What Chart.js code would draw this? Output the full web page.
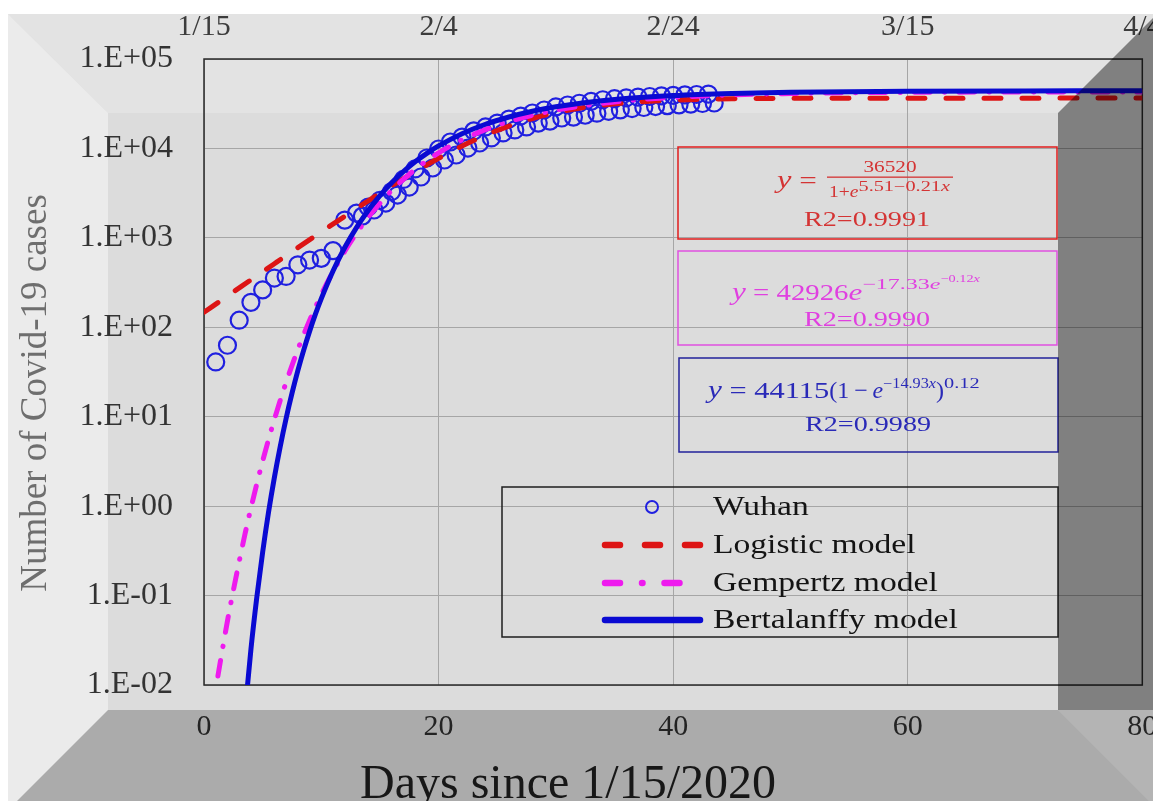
<!DOCTYPE html>
<html>
<head>
<meta charset="utf-8">
<script src="https://cdn.jsdelivr.net/npm/chart.js@4.4.1/dist/chart.umd.min.js"></script>
<style>
  html, body { margin: 0; padding: 0; background: #fff; }
</style>
</head>
<body>
<canvas id="chart" width="1153" height="801"></canvas>
<script>
// observed cases (two rows of markers in the original)
const wuhanDays = [1, 2, 3, 4, 5, 6, 7, 8, 9, 10, 11, 12, 13, 13.5, 14, 14.5, 15, 15.5, 16, 16.5,
  17, 17.5, 18, 18.5, 19, 19.5, 20, 20.5, 21, 21.5, 22, 22.5, 23, 23.5, 24, 24.5, 25, 25.5,
  26, 26.5, 27, 27.5, 28, 28.5, 29, 29.5, 30, 30.5, 31, 31.5, 32, 32.5, 33, 33.5, 34, 34.5,
  35, 35.5, 36, 36.5, 37, 37.5, 38, 38.5, 39, 39.5, 40, 40.5, 41, 41.5, 42, 42.5, 43, 43.5];
const wuhanCases = [41, 63, 120, 190, 262, 355, 370, 500, 565, 590, 720, 1580, 1890, 1750, 2210, 2050, 2630, 2450, 3300, 3010,
  4500, 3700, 5900, 4790, 7820, 6040, 9850, 7420, 11800, 8440, 13400, 10100, 15700, 11500, 17400, 13100, 19200, 14900,
  21300, 16100, 23000, 17400, 24900, 19200, 26900, 20200, 29100, 21900, 30600, 22400, 32000, 23500, 33500, 24800, 35000, 26000,
  36000, 27000, 36800, 27900, 37500, 28700, 38100, 29400, 38700, 30100, 39200, 30700, 39700, 31300, 40100, 31800, 40500, 32200];

// fitted curves
const logisticDays = [0, 2, 4, 6, 8, 10, 12, 14, 16, 18, 20, 22, 24, 26, 28, 30, 32, 34, 36, 38, 40, 45, 50, 60, 70, 80];
const logisticCases = [147, 224, 339, 514, 777, 1166, 1743, 2596, 3812, 5500, 7755, 10631, 14046, 17805, 21600, 25117,
  28135, 30535, 32348, 33671, 34597, 35825, 36273, 36490, 36516, 36520];

const gompertzDays = [0, 1, 1.5, 2, 2.5, 3, 3.5, 4, 5, 6, 7, 8, 9, 10, 11, 12, 13, 14, 16, 18, 20, 22, 24, 26, 28, 30, 35, 40, 45, 50, 60, 70, 80];
const gompertzCases = [0.0013, 0.009, 0.022, 0.052, 0.114, 0.24, 0.49, 0.95, 3.19, 9.33, 24.2, 56.4, 119, 232, 419, 707, 1126, 1699,
  3383, 5821, 8916, 12462, 16226, 19975, 23511, 26743, 33100, 37220, 39690, 41120, 42370, 42759, 42876];

const bertDays = [3, 3.5, 4, 4.5, 5, 5.5, 6, 6.5, 7, 7.5, 8, 8.5, 9, 9.5, 10, 11, 12, 13, 14, 15, 16, 17, 18, 19, 20,
  22, 24, 26, 28, 30, 35, 40, 45, 50, 60, 70, 80];
const bertCases = [0.0008, 0.0051, 0.025, 0.095, 0.305, 0.85, 2.09, 4.65, 9.56, 18.2, 32.7, 55.5, 90, 140, 209, 426, 780, 1304,
  2028, 2970, 4138, 5512, 7085, 8810, 10663, 14598, 18634, 22464, 26046, 29183, 35204, 39000, 41230, 42510, 43624, 43967, 44070];

const yTickValues = [0.01, 0.1, 1, 10, 100, 1000, 10000, 100000];
const yTickLabels = ['1.E-02', '1.E-01', '1.E+00', '1.E+01', '1.E+02', '1.E+03', '1.E+04', '1.E+05'];
const topTickLabels = ['1/15', '2/4', '2/24', '3/15', '4/4'];

const FONT = '"Liberation Serif", "Times New Roman", serif';

function pts(xs, ys) {
  return xs.map((x, i) => ({ x: x, y: ys[i] }));
}

function poly(c, p, fill) {
  c.beginPath();
  c.moveTo(p[0][0], p[0][1]);
  for (let i = 1; i < p.length; i++) c.lineTo(p[i][0], p[i][1]);
  c.closePath();
  c.fillStyle = fill;
  c.fill();
}

// text squeezed/stretched horizontally like the original picture
function wideText(c, t, x, y, sx) {
  c.save();
  c.translate(x, y);
  c.scale(sx, 1);
  c.fillText(t, 0, 0);
  c.restore();
}

// a row of pieces: [text, size, dy, italic, sx]
function runs(c, items, x, baseline) {
  let cx = x;
  c.textAlign = 'left';
  c.textBaseline = 'alphabetic';
  items.forEach(([t, size, dy, it, sx]) => {
    c.font = (it ? 'italic ' : '') + size + 'px ' + FONT;
    wideText(c, t, cx, baseline + dy, sx);
    cx += c.measureText(t).width * sx;
  });
}

function centered(c, t, size, x, baseline, sx) {
  c.font = size + 'px ' + FONT;
  c.textAlign = 'center';
  c.textBaseline = 'alphabetic';
  wideText(c, t, x, baseline, sx);
}

const framePlugin = {
  id: 'frame',
  beforeDraw(chart) {
    const c = chart.ctx;
    c.save();
    c.fillStyle = '#fff';
    c.fillRect(0, 0, 1153, 801);
    c.fillStyle = '#dcdcdc';
    c.fillRect(8, 14, 1145, 787);
    poly(c, [[8, 14], [1157, 14], [1058, 113], [108, 113]], '#e3e3e3');
    poly(c, [[8, 14], [108, 113], [108, 710], [17, 801], [8, 801]], '#ebebeb');
    c.restore();
  },
  beforeDatasetsDraw(chart) {
    const a = chart.chartArea, c = chart.ctx;
    c.save();
    c.strokeStyle = '#2a2a2a';
    c.lineWidth = 1.5;
    c.strokeRect(a.left, a.top, a.right - a.left, a.bottom - a.top);
    c.restore();
  },
  afterDraw(chart) {
    const c = chart.ctx;
    c.save();

    // axis titles
    c.fillStyle = '#6e6e6e';
    c.font = '37px ' + FONT;
    c.textAlign = 'center';
    c.textBaseline = 'middle';
    c.translate(36, 393);
    c.rotate(-Math.PI / 2);
    c.fillText('Number of Covid-19 cases', 0, 0);
    c.setTransform(1, 0, 0, 1, 0, 0);
    c.fillStyle = '#1e1e1e';
    c.font = '48px ' + FONT;
    c.fillText('Days since 1/15/2020', 568, 785);

    // equation boxes
    c.lineWidth = 1.5;
    c.strokeStyle = '#e01c1c';
    c.strokeRect(678, 147, 379, 92);
    c.fillStyle = '#d43434';
    runs(c, [['y', 26, 0, true, 1.25], [' =', 24, 0, false, 1.3]], 777, 188);
    centered(c, '36520', 17, 890, 172, 1.25);
    c.fillRect(827, 176.5, 126, 1.3);
    runs(c, [['1+', 17, 0, false, 1.15], ['e', 17, 0, true, 1.15], ['5.51−0.21', 14, -6, false, 1.45], ['x', 14, -6, true, 1.45]], 829, 197);
    centered(c, 'R2=0.9991', 22, 867, 226, 1.28);

    c.strokeStyle = '#e050e0';
    c.strokeRect(678, 251, 379, 94);
    c.fillStyle = '#e040e0';
    runs(c, [['y', 26, 0, true, 1.2], [' = 42926', 24, 0, false, 1.2], ['e', 24, 0, true, 1.3], ['−17.33', 15, -11, false, 1.6],
      ['e', 15, -11, true, 1.6], ['−0.12', 11, -18, false, 1.3], ['x', 11, -18, true, 1.3]], 732, 300);
    centered(c, 'R2=0.9990', 22, 867, 326, 1.28);

    c.strokeStyle = '#22229a';
    c.strokeRect(679, 358, 379, 94);
    c.fillStyle = '#2a2ab8';
    runs(c, [['y', 26, 0, true, 1.2], [' = 44115', 24, 0, false, 1.27], ['(1\u2009−\u2009', 24, 0, false, 1.0], ['e', 24, 0, true, 1.0],
      ['−14.93', 14, -10, false, 1.16], ['x', 14, -10, true, 1.16], [')', 24, 0, false, 1.0], ['0.12', 14, -10, false, 1.45]], 708, 398);
    centered(c, 'R2=0.9989', 22, 868, 431, 1.28);

    // legend
    const ds = chart.data.datasets;
    c.strokeStyle = '#1e1e1e';
    c.lineWidth = 1.5;
    c.strokeRect(502, 487, 556, 150);
    const rowsY = [507, 545, 583, 620];
    ds.forEach((d, i) => {
      const y = rowsY[i];
      c.save();
      if (i === 0) {
        c.beginPath();
        c.arc(652, y, 6, 0, Math.PI * 2);
        c.strokeStyle = d.pointBorderColor;
        c.lineWidth = 2;
        c.stroke();
      } else {
        c.beginPath();
        c.moveTo(605, y);
        c.lineTo(700, y);
        c.strokeStyle = d.borderColor;
        c.lineWidth = d.borderWidth + 1.5;
        c.lineCap = 'round';
        c.setLineDash(d.legendDash || []);
        c.stroke();
      }
      c.restore();
      c.fillStyle = '#141414';
      c.font = '28px ' + FONT;
      c.textAlign = 'left';
      c.textBaseline = 'middle';
      wideText(c, d.label, 713, y + 1, 1.2);
    });

    // bevel shading of the picture frame
    poly(c, [[108, 710], [1058, 710], [1149, 801], [17, 801]], 'rgba(0,0,0,0.22)');
    poly(c, [[1058, 113], [1153, 18], [1153, 710], [1058, 710]], 'rgba(0,0,0,0.42)');
    poly(c, [[1058, 710], [1153, 710], [1153, 805]], 'rgba(0,0,0,0.18)');
    c.restore();
  }
};

const tickFont = { family: FONT, size: 30 };

new Chart(document.getElementById('chart'), {
  type: 'scatter',
  data: {
    datasets: [
      {
        label: 'Wuhan',
        data: pts(wuhanDays, wuhanCases),
        showLine: false,
        pointRadius: 8.5,
        pointBorderWidth: 2.2,
        pointBorderColor: '#2020e0',
        pointBackgroundColor: 'rgba(0,0,0,0)',
        order: 4
      },
      {
        label: 'Logistic model',
        data: pts(logisticDays, logisticCases),
        showLine: true,
        pointRadius: 0,
        borderColor: '#dd1414',
        borderWidth: 5,
        borderDash: [17, 21],
        legendDash: [15, 25],
        borderCapStyle: 'round',
        cubicInterpolationMode: 'monotone',
        order: 3
      },
      {
        label: 'Gempertz model',
        data: pts(gompertzDays, gompertzCases),
        showLine: true,
        pointRadius: 0,
        borderColor: '#ee1aee',
        borderWidth: 5,
        borderDash: [16, 14, 0.5, 14],
        legendDash: [15, 22, 0.5, 22],
        borderCapStyle: 'round',
        cubicInterpolationMode: 'monotone',
        order: 2
      },
      {
        label: 'Bertalanffy model',
        data: pts(bertDays, bertCases),
        showLine: true,
        pointRadius: 0,
        borderColor: '#0a0ad2',
        borderWidth: 5,
        cubicInterpolationMode: 'monotone',
        order: 1
      }
    ]
  },
  options: {
    responsive: false,
    animation: false,
    devicePixelRatio: 1,
    layout: { padding: { left: 0, right: 5, top: 0, bottom: 0 } },
    plugins: {
      legend: { display: false },
      tooltip: { enabled: false }
    },
    scales: {
      x: {
        type: 'linear',
        position: 'bottom',
        min: 0,
        max: 80,
        ticks: { stepSize: 20, padding: 24, color: '#2e2e2e', font: tickFont, maxRotation: 0, autoSkip: false },
        grid: { color: '#a6a6a6', lineWidth: 1, drawTicks: false },
        border: { display: false },
        afterFit(scale) {
          scale.height = 116;
          scale.paddingLeft = 0;
          scale.paddingRight = 0;
        }
      },
      x2: {
        type: 'linear',
        position: 'top',
        min: 0,
        max: 80,
        ticks: {
          stepSize: 20, padding: 14, color: '#3c3c3c', font: tickFont, maxRotation: 0, autoSkip: false,
          callback: (v, i) => topTickLabels[i]
        },
        grid: { display: false, drawTicks: false },
        border: { display: false },
        afterFit(scale) {
          scale.height = 59;
          scale.paddingLeft = 0;
          scale.paddingRight = 0;
        }
      },
      y: {
        type: 'logarithmic',
        min: 0.01,
        max: 100000,
        afterBuildTicks(scale) {
          scale.ticks = yTickValues.map(v => ({ value: v }));
        },
        ticks: {
          padding: 31, color: '#333', font: { family: FONT, size: 32 }, autoSkip: false,
          callback: (v, i) => yTickLabels[i]
        },
        grid: { color: '#a6a6a6', lineWidth: 1, drawTicks: false },
        border: { display: false },
        afterFit(scale) {
          scale.width = 204;
          scale.paddingTop = 0;
          scale.paddingBottom = 0;
        }
      }
    }
  },
  plugins: [framePlugin]
});
</script>
</body>
</html>
